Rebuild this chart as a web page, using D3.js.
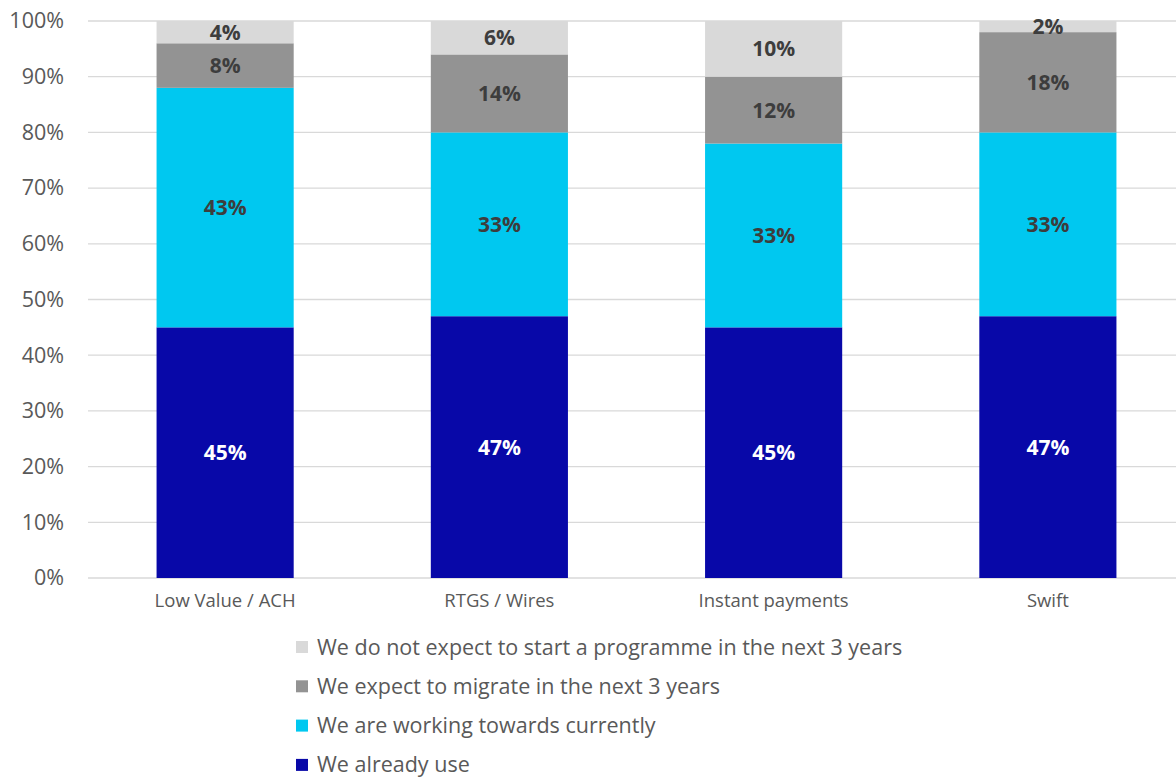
<!DOCTYPE html>
<html>
<head>
<meta charset="utf-8">
<script src="https://cdn.jsdelivr.net/npm/d3@7"></script>
<style>
  html, body { margin: 0; padding: 0; background: #fff; }
  svg { display: block; font-family: "Open Sans", "Noto Sans", sans-serif; }
</style>
</head>
<body>
<svg id="chart" width="1176" height="778"></svg>
<script>
// Payment schemes on the horizontal axis
const categories = ["Low Value / ACH", "RTGS / Wires", "Instant payments", "Swift"];

// Share of respondents per status (percent), stacked bottom to top
const alreadyUse   = [45, 47, 45, 47];
const workingNow   = [43, 33, 33, 33];
const migrateSoon  = [8, 14, 12, 18];
const noProgramme  = [4, 6, 10, 2];

const seriesNames = [
  "We already use",
  "We are working towards currently",
  "We expect to migrate in the next 3 years",
  "We do not expect to start a programme in the next 3 years"
];
const seriesColors = ["#0808a8", "#00c8f0", "#939393", "#d9d9d9"];
const labelColors  = ["#ffffff", "#3d3d3d", "#3d3d3d", "#3d3d3d"];

const yTicks = [0, 10, 20, 30, 40, 50, 60, 70, 80, 90, 100];

const rows = categories.map((c, i) => ({
  cat: c,
  s0: alreadyUse[i], s1: workingNow[i], s2: migrateSoon[i], s3: noProgramme[i]
}));
const keys = ["s0", "s1", "s2", "s3"];
const stacked = d3.stack().keys(keys)(rows);

const svg = d3.select("#chart");
const W = 1176;
const plot = { left: 88, right: 1185, top: 21, bottom: 578 };

const x = d3.scaleBand().domain(categories).range([plot.left, plot.right]).paddingInner(0.5).paddingOuter(0.25);
const y = d3.scaleLinear().domain([0, 100]).range([plot.bottom, plot.top]);

// Gridlines
svg.append("g").selectAll("line").data(yTicks).join("line")
  .attr("x1", plot.left).attr("x2", W)
  .attr("y1", d => y(d)).attr("y2", d => y(d))
  .attr("stroke", "#d9d9d9").attr("stroke-width", 1.3);

// Y axis labels
const yAxis = d3.axisLeft(y).tickValues(yTicks).tickFormat(d => d + "%").tickSize(0).tickPadding(0);
const yg = svg.append("g").attr("transform", `translate(${64},0)`).call(yAxis);
yg.select(".domain").remove();
yg.selectAll("text").attr("font-size", 21.5).attr("fill", "#595959")
  .attr("font-family", "'Open Sans', sans-serif");

// X axis labels
const xAxis = d3.axisBottom(x).tickSize(0).tickPadding(0);
const xg = svg.append("g").attr("transform", `translate(0,${594})`).call(xAxis);
xg.select(".domain").remove();
xg.selectAll("text").attr("font-size", 18.5).attr("fill", "#595959")
  .attr("font-family", "'Open Sans', sans-serif");

// Stacked bars
const layers = svg.append("g").selectAll("g").data(stacked).join("g")
  .attr("fill", (d, i) => seriesColors[i]);
layers.selectAll("rect").data(d => d).join("rect")
  .attr("x", d => x(d.data.cat))
  .attr("width", x.bandwidth())
  .attr("y", d => y(d[1]))
  .attr("height", d => y(d[0]) - y(d[1]));

// Segment value labels
const labels = svg.append("g").selectAll("g").data(stacked).join("g")
  .attr("fill", (d, i) => labelColors[i]);
labels.selectAll("text").data(d => d).join("text")
  .attr("x", d => x(d.data.cat) + x.bandwidth() / 2)
  .attr("y", d => (y(d[0]) + y(d[1])) / 2)
  .attr("dy", "0.36em")
  .attr("text-anchor", "middle")
  .attr("font-size", 21)
  .attr("font-weight", "bold")
  .text(d => (d[1] - d[0]) + "%");

// Legend (top entry is the top series)
const legendOrder = [3, 2, 1, 0];
const lg = svg.append("g").selectAll("g").data(legendOrder).join("g")
  .attr("transform", (d, i) => `translate(296,${647 + i * 39.3})`);
lg.append("rect").attr("x", 0).attr("y", -6).attr("width", 12).attr("height", 12)
  .attr("fill", d => seriesColors[d]);
lg.append("text").attr("x", 21).attr("y", 0).attr("dy", "0.35em")
  .attr("font-size", 21.5).attr("fill", "#595959")
  .text(d => seriesNames[d]);
</script>
</body>
</html>
